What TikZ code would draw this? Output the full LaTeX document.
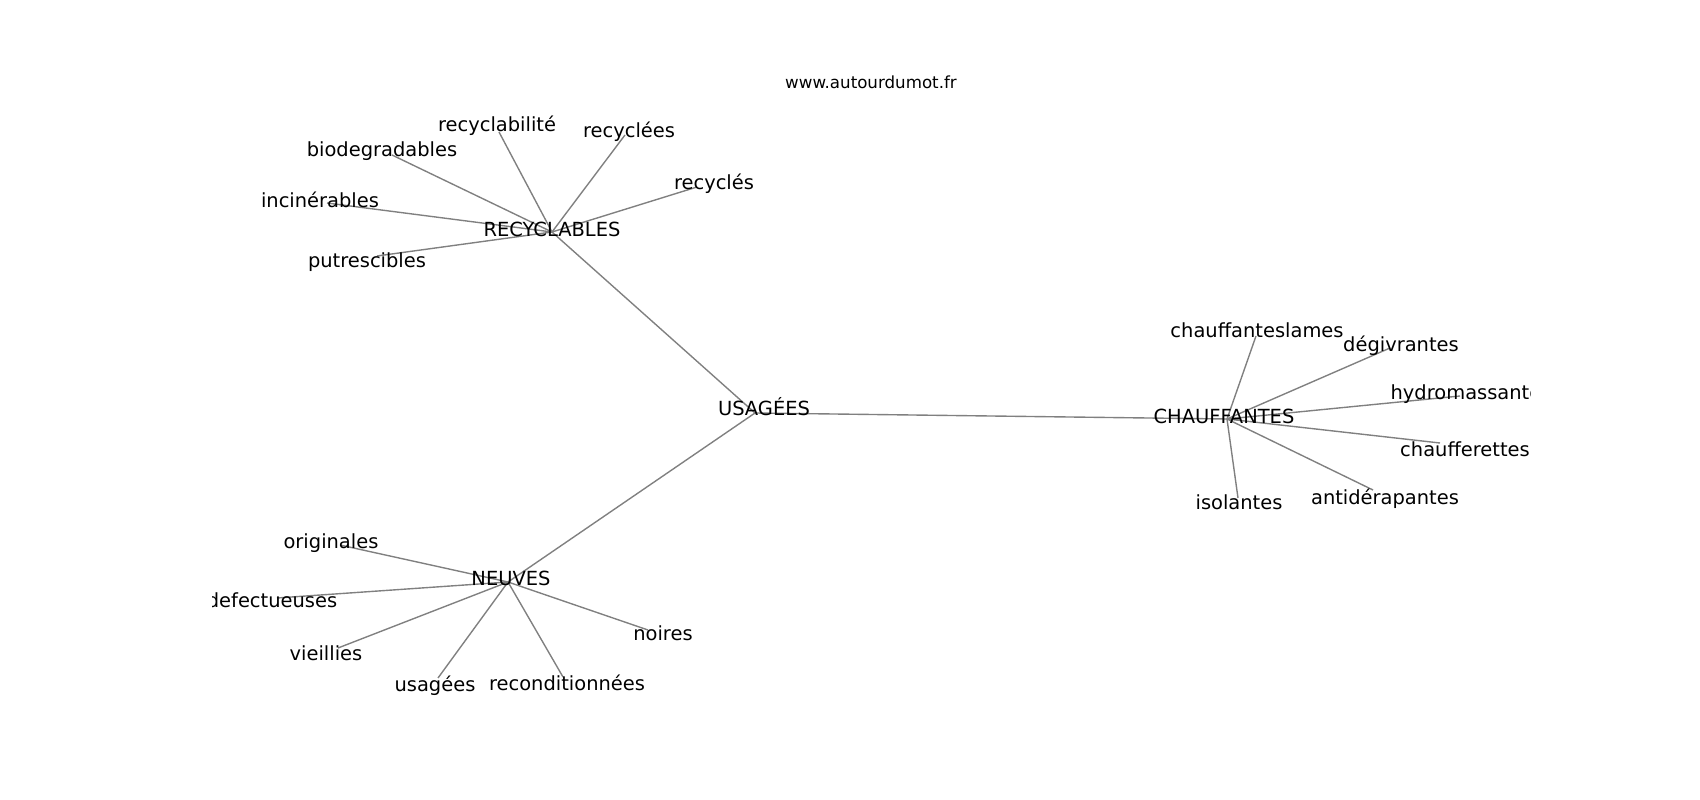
\documentclass[tikz,border=0pt]{standalone}
\usepackage{fontspec}
\setmainfont{DejaVu Sans}
\usetikzlibrary{arrows,shapes}
\tikzstyle{word}=[inner sep=0pt,font=\fontsize{14bp}{17bp}\selectfont]
\tikzstyle{sitelabel}=[inner sep=0pt,font=\fontsize{12bp}{14bp}\selectfont]
\tikzstyle{edgeline}=[draw,gray,line width=1bp]

\begin{document}
\begin{tikzpicture}[x=0.01in,y=-0.01in]
    \useasboundingbox (0,0) rectangle (1700,800);
    \node[sitelabel] (site) at (871,82) {www.autourdumot.fr};
    \begin{scope}
    \clip (212.5,96) rectangle (1530,712);
    % graph points
    \foreach \x/\y/\name in {755/413/usagees, 552/232/recyclables, 1227/419/chauffantes, 508/582/neuves,
        499/132/recyclabilite, 625/135/recyclees, 392/155/biodegradables, 697/187/recycles,
        327/203/incinerables, 377/256/putrescibles,
        1256/336/chauffanteslames, 1390/348/degivrantes, 1460/396/hydromassantes,
        1440/443/chaufferettes, 1373/490/antiderapantes, 1238/498/isolantes,
        340/545/originales, 277/598/defectueuses, 338/648/vieillies,
        438/678/usagees2, 563/677/reconditionnees, 648/630/noires}
        \coordinate (\name) at (\x,\y);
    \foreach \hub/\leaf in {usagees/recyclables, usagees/chauffantes, usagees/neuves}
        \path[edgeline] (\hub) -- (\leaf);
    \foreach \leaf in {recyclabilite, recyclees, biodegradables, recycles, incinerables, putrescibles}
        \path[edgeline] (recyclables) -- (\leaf);
    \foreach \leaf in {chauffanteslames, degivrantes, hydromassantes, chaufferettes, antiderapantes, isolantes}
        \path[edgeline] (chauffantes) -- (\leaf);
    \foreach \leaf in {originales, defectueuses, vieillies, usagees2, reconditionnees, noires}
        \path[edgeline] (neuves) -- (\leaf);
    % labels
    \foreach \x/\y/\name/\word in {764/407/usagees/USAGÉES, 552/229/recyclables/RECYCLABLES,
        1224/416/chauffantes/CHAUFFANTES, 511/578/neuves/NEUVES,
        497/126/recyclabilite/recyclabilité, 629/132/recyclees/recyclées,
        382/151/biodegradables/biodegradables, 714/184/recycles/recyclés,
        320/200/incinerables/incinérables, 367/262/putrescibles/putrescibles,
        1257/330/chauffanteslames/chauffanteslames, 1401/346/degivrantes/dégivrantes,
        1471/394/hydromassantes/hydromassantes, 1465/449/chaufferettes/chaufferettes,
        1385/499/antiderapantes/antidérapantes, 1239/502/isolantes/isolantes,
        331/543/originales/originales, 272/600/defectueuses/defectueuses,
        326/653/vieillies/vieillies, 435/686/usagees2/usagées,
        567/683/reconditionnees/reconditionnées, 663/633/noires/noires}
        \node[word] (\name-t) at (\x,\y) {\word};
    \end{scope}
\end{tikzpicture}
\end{document}
